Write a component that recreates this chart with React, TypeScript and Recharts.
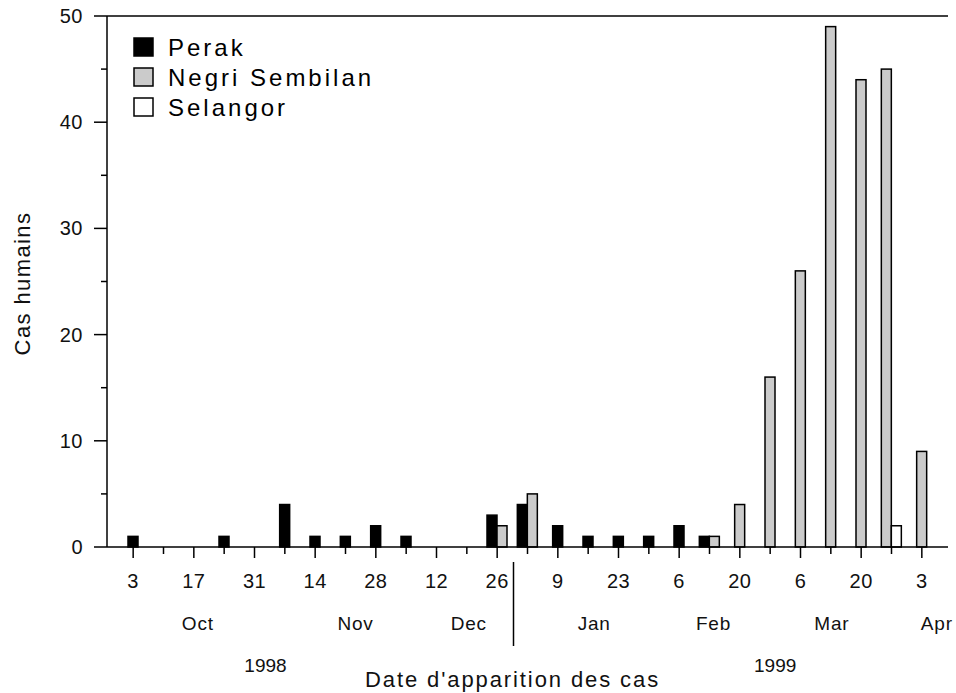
import React from "react";
import { BarChart, Bar, XAxis, YAxis, ReferenceLine, Legend } from "recharts";

// one entry per week (week start), Oct 1998 - Apr 1999
const weeks = [
  "1998-10-03", "1998-10-10", "1998-10-17", "1998-10-24", "1998-10-31",
  "1998-11-07", "1998-11-14", "1998-11-21", "1998-11-28",
  "1998-12-05", "1998-12-12", "1998-12-19", "1998-12-26",
  "1999-01-02", "1999-01-09", "1999-01-16", "1999-01-23", "1999-01-30",
  "1999-02-06", "1999-02-13", "1999-02-20", "1999-02-27",
  "1999-03-06", "1999-03-13", "1999-03-20", "1999-03-27",
  "1999-04-03",
];
const dayLabels = [
  "3", "", "17", "", "31", "", "14", "", "28", "", "12", "", "26", "",
  "9", "", "23", "", "6", "", "20", "", "6", "", "20", "", "3",
];
const perak = [1, 0, 0, 1, 0, 4, 1, 1, 2, 1, 0, 0, 3, 4, 2, 1, 1, 1, 2, 1, 0, 0, 0, 0, 0, 0, 0];
const negriSembilan = [0, 0, 0, 0, 0, 0, 0, 0, 0, 0, 0, 0, 2, 5, 0, 0, 0, 0, 0, 1, 4, 16, 26, 49, 44, 45, 9];
const selangor = [0, 0, 0, 0, 0, 0, 0, 0, 0, 0, 0, 0, 0, 0, 0, 0, 0, 0, 0, 0, 0, 0, 0, 0, 0, 2, 0];

const monthLabels = [
  { week: "1998-10-17", label: "Oct" },
  { week: "1998-11-21", label: "Nov" },
  { week: "1998-12-19", label: "Dec" },
  { week: "1999-01-16", label: "Jan" },
  { week: "1999-02-13", label: "Feb" },
  { week: "1999-03-13", label: "Mar" },
  { week: "1999-04-03", label: "Apr" },
];
const yearLabels = [
  { week: "1998-10-31", label: "1998" },
  { week: "1999-02-27", label: "1999" },
];
const yearBreakWeek = "1999-01-02";
const yTicks = [0, 5, 10, 15, 20, 25, 30, 35, 40, 45, 50];

const data = weeks.map((week, i) => ({
  week,
  perak: perak[i],
  negri: negriSembilan[i],
  selangor: selangor[i],
}));

const series = [
  { key: "perak", name: "Perak", fill: "#000000" },
  { key: "negri", name: "Negri Sembilan", fill: "#cbcbcb" },
  { key: "selangor", name: "Selangor", fill: "#ffffff" },
];

const FONT = "'Liberation Sans', Arial, sans-serif";
// small horizontal nudges so the labels sit where the original put them
const monthNudge: Record<string, number> = { Oct: 4, Nov: 10, Dec: 2, Jan: 6, Feb: 4, Mar: 1, Apr: 15 };
const yearNudge: Record<string, number> = { "1998": 11, "1999": 5 };

// bars of a week are packed together and centred on the week
const makeShape = (k: number) => (props: any) => {
  const { x, y, width, height, payload, fill } = props;
  const key = series[k].key;
  if (!payload[key]) return null;
  const present = series.filter((s) => payload[s.key] > 0).map((s) => s.key);
  const rank = present.indexOf(key);
  const center = x - k * width + (series.length * width) / 2;
  const nx = center - (present.length * width) / 2 + rank * width;
  return <rect x={nx} y={y} width={width} height={height} fill={fill} stroke="#000" strokeWidth={1.5} />;
};

const XTick = (props: any) => {
  const { x, y, payload } = props;
  const i = weeks.indexOf(payload.value);
  const label = dayLabels[i];
  const month = monthLabels.find((m) => m.week === payload.value);
  const year = yearLabels.find((m) => m.week === payload.value);
  return (
    <g>
      <line x1={x} x2={x} y1={y} y2={y + (label ? 11 : 7)} stroke="#000" strokeWidth={1.5} />
      {label && (
        <text x={x} y={y + 41} textAnchor="middle" fontSize={20} fontFamily={FONT} letterSpacing={0.5} fill="#111">
          {label}
        </text>
      )}
      {month && (
        <text x={x + monthNudge[month.label]} y={y + 83} textAnchor="middle" fontSize={19} fontFamily={FONT} letterSpacing={0.8} fill="#111">
          {month.label}
        </text>
      )}
      {year && (
        <text x={x + yearNudge[year.label]} y={y + 125} textAnchor="middle" fontSize={19} fontFamily={FONT} fill="#111">
          {year.label}
        </text>
      )}
      {payload.value === yearBreakWeek && (
        <line x1={x - 14} x2={x - 14} y1={y + 15} y2={y + 99} stroke="#000" strokeWidth={1.5} />
      )}
    </g>
  );
};

const YTick = (props: any) => {
  const { x, y, payload } = props;
  const major = payload.value % 10 === 0;
  return (
    <g>
      <line x1={x - (major ? 13 : 6)} x2={x} y1={y} y2={y} stroke="#000" strokeWidth={1.5} />
      {major && (
        <text x={x - 24} y={y + 7} textAnchor="end" fontSize={20} fontFamily={FONT} letterSpacing={0.5} fill="#111">
          {payload.value}
        </text>
      )}
    </g>
  );
};

const XTitle = (props: any) => {
  const { viewBox } = props;
  return (
    <text x={viewBox.x + viewBox.width / 2 - 15} y={viewBox.y + 140} textAnchor="middle" fontSize={22} fontFamily={FONT} letterSpacing={1.9} fill="#111">
      Date d'apparition des cas
    </text>
  );
};

const YTitle = (props: any) => {
  const { viewBox } = props;
  const cx = 22;
  const cy = viewBox.y + viewBox.height / 2 + 2;
  return (
    <text x={cx} y={cy} transform={`rotate(-90 ${cx} ${cy})`} textAnchor="middle" dominantBaseline="central" fontSize={22} fontFamily={FONT} letterSpacing={1.4} fill="#111">
      Cas humains
    </text>
  );
};

const LegendBox = (props: any) => {
  const payload = props.payload || [];
  const rows = series
    .map((s) => ({ s, entry: payload.find((p: any) => p.value === s.name) }))
    .filter((r) => r.entry);
  return (
    <svg width={400} height={130}>
      {rows.map(({ s, entry }, i) => {
        const base = 56 + i * 30;
        return (
          <g key={s.key}>
            <rect x={134} y={base - 18} width={19} height={18} fill={s.fill} stroke="#000" strokeWidth={1.5} />
            <text x={168} y={base} fontSize={24} fontFamily={FONT} letterSpacing={3} fill="#000">
              {entry.value}
            </text>
          </g>
        );
      })}
    </svg>
  );
};

export default function App() {
  return (
    <div style={{ position: "absolute", left: 0, top: 0, width: 956, height: 693, background: "#fff", fontFamily: FONT }}>
      <BarChart
        width={956}
        height={693}
        data={data}
        margin={{ top: 16, right: 8, left: 0, bottom: 0 }}
        barGap={0}
      >
        <XAxis
          dataKey="week"
          interval={0}
          height={146}
          padding={{ left: 11, right: 11 }}
          tickSize={0}
          tickMargin={0}
          tickLine={false}
          axisLine={{ stroke: "#000", strokeWidth: 1.5 }}
          tick={<XTick />}
          label={<XTitle />}
        />
        <YAxis
          width={107}
          domain={[0, 50]}
          ticks={yTicks}
          interval={0}
          tickSize={0}
          tickMargin={0}
          tickLine={false}
          axisLine={{ stroke: "#000", strokeWidth: 1.5 }}
          tick={<YTick />}
          label={<YTitle />}
        />
        <YAxis
          yAxisId="right"
          orientation="right"
          width={0}
          domain={[0, 50]}
          tick={false}
          tickLine={false}
          axisLine={{ stroke: "#000", strokeWidth: 1.5 }}
        />
        <ReferenceLine y={50} stroke="#000" strokeWidth={1.5} />
        <Legend
          layout="vertical"
          align="center"
          verticalAlign="middle"
          wrapperStyle={{ left: 0, top: 0, width: 400, height: 130 }}
          content={<LegendBox />}
        />
        {series.map((s, k) => (
          <Bar
            key={s.key}
            dataKey={s.key}
            name={s.name}
            fill={s.fill}
            barSize={10}
            isAnimationActive={false}
            shape={makeShape(k)}
          />
        ))}
      </BarChart>
    </div>
  );
}
